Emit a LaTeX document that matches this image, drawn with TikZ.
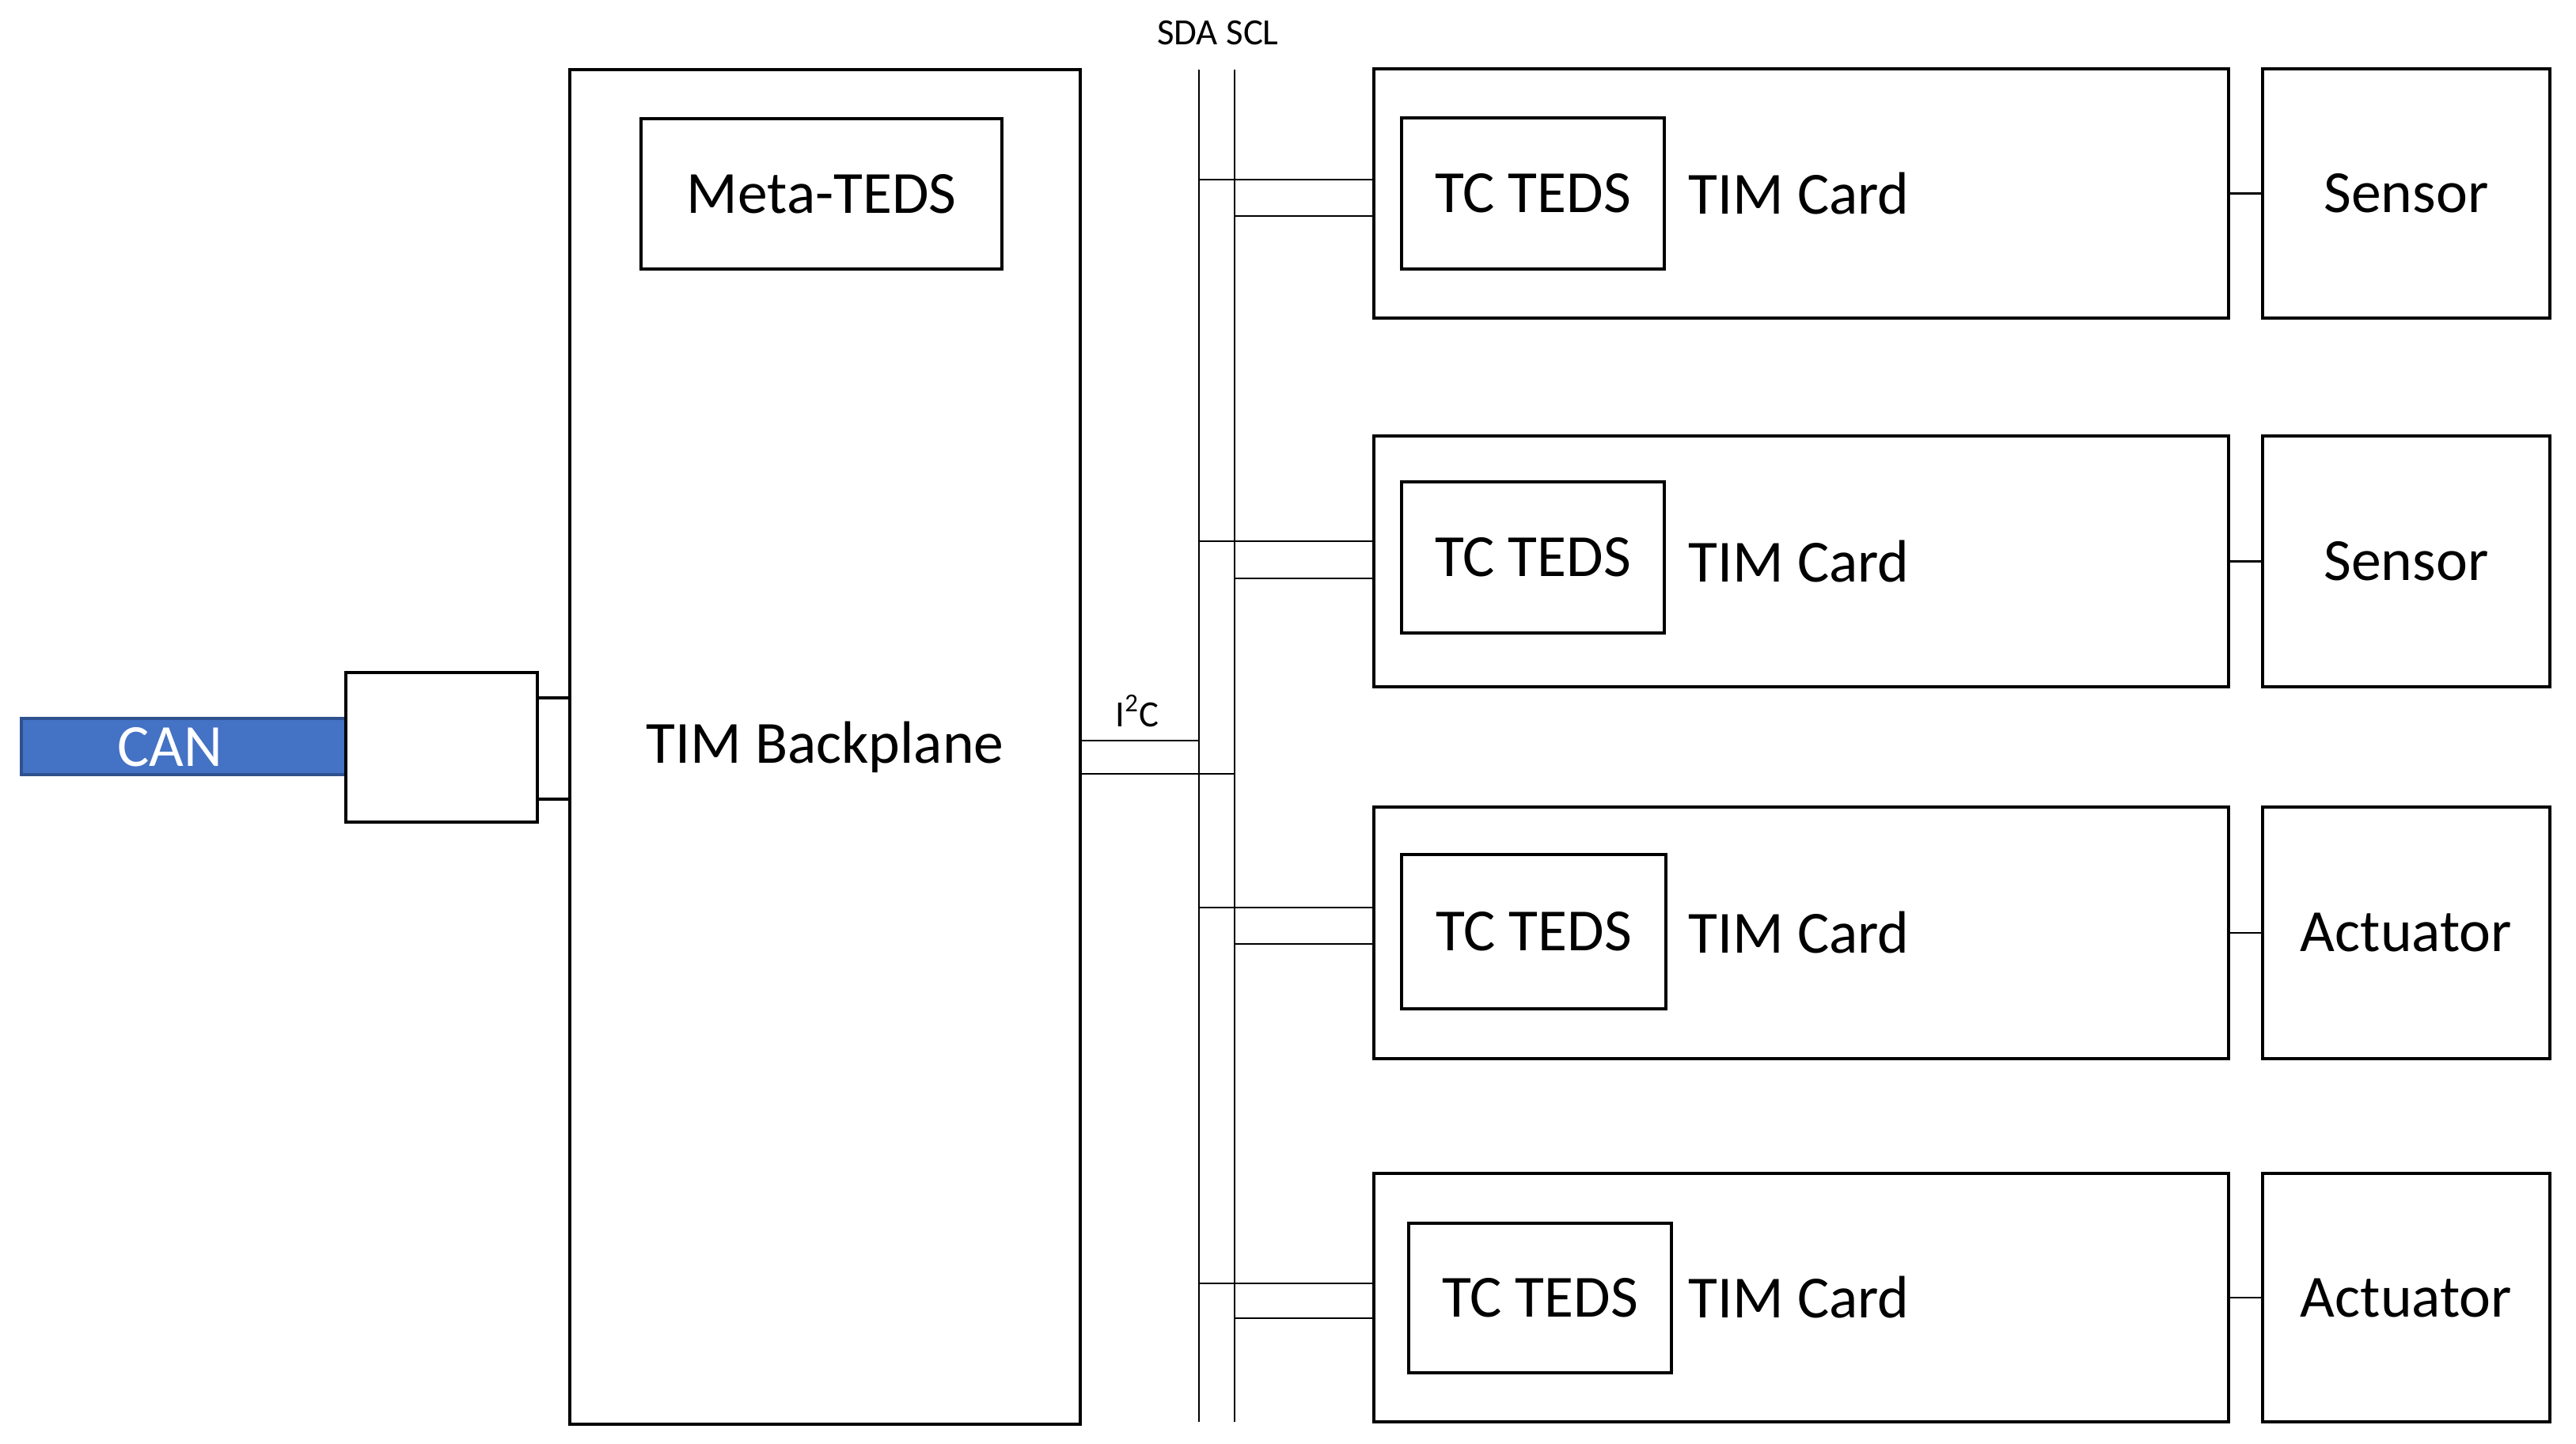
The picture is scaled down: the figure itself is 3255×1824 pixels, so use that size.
\documentclass[tikz,border=0pt]{standalone}
\usepackage{fontspec}
\setmainfont{Carlito}
\usetikzlibrary{fit}
\definecolor{canblue}{HTML}{4472C4}
\definecolor{canborder}{HTML}{2F528F}
\begin{document}
\begin{tikzpicture}[x=0.01cm,y=-0.01cm,
  box/.style={draw=black, line width=1.25pt, inner sep=0pt},
  wire/.style={draw=black, line width=0.65pt},
  conn/.style={draw=black, line width=0.9pt},
  big/.style={font=\fontsize{21.5}{26}\selectfont, inner sep=0pt},
  small/.style={font=\fontsize{13.3}{16}\selectfont, inner sep=0pt}]
\useasboundingbox (0,0) rectangle (3255,1824);

% CAN bar and adapter
\node[fill=canblue, draw=canborder, line width=1pt, inner sep=0pt, fit={(27,908)(437,979)}] (canbar) {};
\node[big, text=white] (can) at (215,944) {CAN};
\node[box, fill=white, fit={(437,850)(679,1039)}] (adp) {};

% Backplane
\node[box, fit={(720,88)(1365,1800)}] (bp) {};
\node[big] (bpt) at (bp.center) {TIM Backplane};
\node[box, fit={(810,150)(1266,340)}] (meta) {};
\node[big] (metat) at (meta.center) {Meta-TEDS};

\coordinate (ya) at (0,882);
\coordinate (yb) at (0,1010);
\draw[conn] (adp.east |- ya) -- (bp.west |- ya);
\draw[conn] (adp.east |- yb) -- (bp.west |- yb);

% I2C bus
\coordinate (sdaT) at (1515,88);
\coordinate (sdaB) at (1515,1797);
\coordinate (sclT) at (1560,88);
\coordinate (sclB) at (1560,1797);
\draw[wire] (sdaT) -- (sdaB);
\draw[wire] (sclT) -- (sclB);
\node[small, anchor=base] (busl) at (1539,57) {SDA SCL};

\coordinate (ia) at (0,936);
\coordinate (ib) at (0,978);
\draw[wire] (bp.east |- ia) -- (sdaT |- ia);
\draw[wire] (bp.east |- ib) -- (sclT |- ib);
\node[small, anchor=base] (i2c) at (1437,918) {I\textsuperscript{2}C};

% Cards
\foreach \i/\t/\b/\tt/\tb/\tl/\tr/\ya/\yb/\lab in {
  1/87/402/149/340/1771/2103/227/273/Sensor,
  2/551/868/609/800/1771/2103/684/731/Sensor,
  3/1020/1338/1080/1275/1771/2105/1147/1193/Actuator,
  4/1483/1797/1546/1735/1780/2112/1622/1666/Actuator}{
  \node[box, fit={(1736,\t)(2816,\b)}] (card\i) {};
  \node[box, fit={(\tl,\tt)(\tr,\tb)}] (tc\i) {};
  \node[big] (tct\i) at (tc\i.center) {TC TEDS};
  \node[big] (tim\i) at (2273,{(\t+\b)/2}) {TIM Card};
  \node[box, fit={(2859,\t)(3222,\b)}] (sen\i) {};
  \node[big] (sent\i) at (sen\i.center) {\lab};
  \draw[wire] (card\i.east) -- (sen\i.west);
  \coordinate (a\i) at (0,\ya);
  \coordinate (b\i) at (0,\yb);
  \draw[wire] (sdaT |- a\i) -- (card\i.west |- a\i);
  \draw[wire] (sclT |- b\i) -- (card\i.west |- b\i);
}
\end{tikzpicture}
\end{document}
